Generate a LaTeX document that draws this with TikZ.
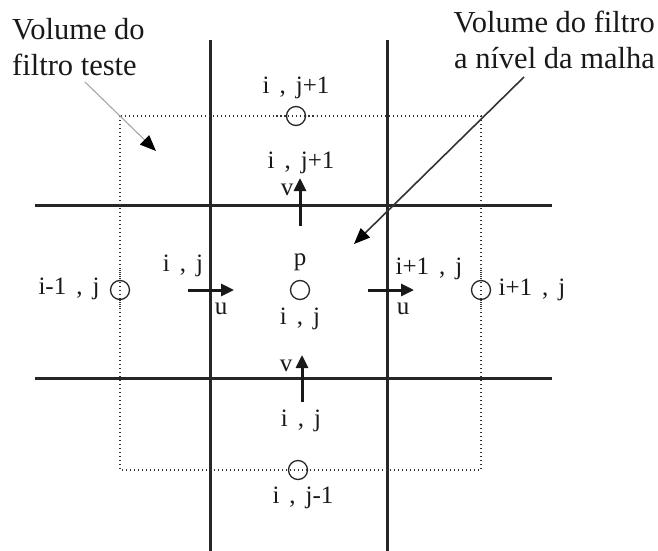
\documentclass[tikz,border=0pt]{standalone}
\usepackage{fontspec}
\setmainfont{Liberation Serif}
\usetikzlibrary{arrows.meta}
\newcommand{\cm}{\hspace{0.4em},\hspace{0.4em}}
\begin{document}
\begin{tikzpicture}[x=1pt,y=-1pt,
  grid/.style={line width=3pt,draw=black!85},
  dotbox/.style={line width=1.4pt,dash pattern=on 1.4pt off 2.6pt,draw=black!80},
  pt/.style={circle,draw=black!85,line width=1.3pt,minimum size=19pt,inner sep=0pt},
  flow/.style={line width=3pt,draw=black!90,-{Triangle[length=13pt,width=12pt]}},
  lab/.style={font=\fontsize{25}{27}\selectfont,inner sep=0pt,text=black!90},
  title/.style={font=\fontsize{30.5}{36}\selectfont,inner sep=0pt,text=black!90},
  greyarrow/.style={line width=1.1pt,draw=black!35,-{Triangle[length=16pt,width=13pt,fill=black,color=black]}},
  darrow/.style={line width=1.6pt,draw=black!80,-{Triangle[length=16pt,width=13pt,fill=black,color=black]}}]
\useasboundingbox (0,0) rectangle (658,551);
% grid lines
\draw[grid] (210,40) -- (210,551);
\draw[grid] (387,40) -- (387,551);
\draw[grid] (35,205) -- (552,205);
\draw[grid] (35,378) -- (552,378);
% dotted filter box
\draw[dotbox] (120,116) rectangle (481,470);
% circles
\node[pt,fill=white] (ctop) at (296,116) {};
\node[pt,fill=white] (cleft) at (120,290) {};
\node[pt,fill=white] (cright) at (481,290) {};
\node[pt,fill=white] (cbot) at (298,470) {};
\node[pt] (cp) at (300,290) {};
% dotted line continues through the circles
\draw[dotbox] (120,270) -- (120,310);
\draw[dotbox] (481,270) -- (481,310);
\draw[dotbox] (276,116) -- (316,116);
\draw[dotbox] (278,470) -- (318,470);
% velocity arrows
\coordinate (ul0) at (188,290); \coordinate (ul1) at (234,290);
\coordinate (ur0) at (368,290); \coordinate (ur1) at (414,290);
\coordinate (vt0) at (300,226); \coordinate (vt1) at (300,178);
\coordinate (vb0) at (302,402); \coordinate (vb1) at (302,355);
\draw[flow] (ul0) -- (ul1);
\draw[flow] (ur0) -- (ur1);
\draw[flow] (vt0) -- (vt1);
\draw[flow] (vb0) -- (vb1);
% labels
\node[lab] (l1) at (296,88) {i\cm j+1};
\node[lab] (l2) at (301,163) {i\cm j+1};
\node[lab] (l3) at (287,190) {v};
\node[lab] (l4) at (300,262) {p};
\node[lab] (l5) at (300,319) {i\cm j};
\node[lab] (l6) at (183,266) {i\cm j};
\node[lab] (l7) at (221,309) {u};
\node[lab] (l8) at (69,289) {i-1\cm j};
\node[lab] (l9) at (429,269) {i+1\cm j};
\node[lab] (l10) at (403,309) {u};
\node[lab] (l11) at (532,290) {i+1\cm j};
\node[lab] (l12) at (286,366) {v};
\node[lab] (l13) at (301,421) {i\cm j};
\node[lab] (l14) at (303,498) {i\cm j-1};
% titles
\node[title,align=left,anchor=west] (t1) at (12,47) {Volume do\\filtro teste};
\node[title,align=right,anchor=east] (t2) at (655,40) {Volume do filtro\\a nível da malha};
% pointer arrows
\coordinate (g0) at (85,82); \coordinate (g1) at (156,151);
\coordinate (d0) at (524,77); \coordinate (d1) at (354,244);
\draw[greyarrow] (g0) -- (g1);
\draw[darrow] (d0) -- (d1);
\end{tikzpicture}
\end{document}
